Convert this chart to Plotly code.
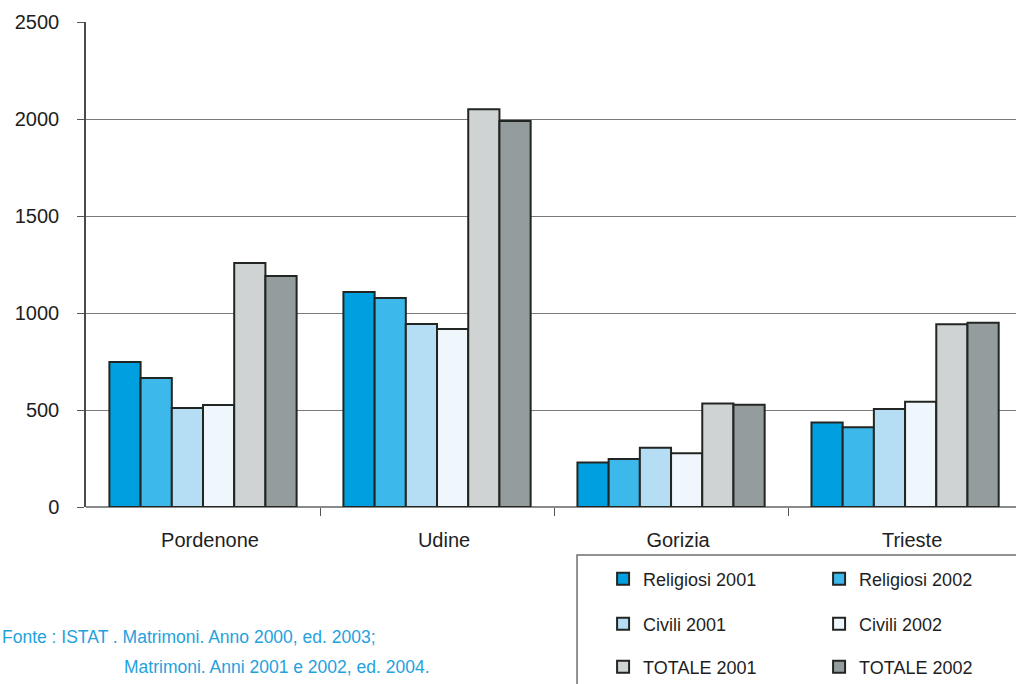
import plotly.graph_objects as go

categories = ["Pordenone", "Udine", "Gorizia", "Trieste"]
series_names = ["Religiosi 2001", "Religiosi 2002", "Civili 2001", "Civili 2002", "TOTALE 2001", "TOTALE 2002"]
religiosi_2001 = [747, 1108, 230, 435]
religiosi_2002 = [665, 1077, 247, 411]
civili_2001 = [510, 943, 306, 505]
civili_2002 = [526, 918, 277, 543]
totale_2001 = [1258, 2050, 534, 942]
totale_2002 = [1191, 1990, 527, 950]
y_ticks = [0, 500, 1000, 1500, 2000, 2500]
source_line1 = "Fonte : ISTAT . Matrimoni. Anno 2000, ed. 2003;"
source_line2 = "Matrimoni. Anni 2001 e 2002, ed. 2004."

values = [religiosi_2001, religiosi_2002, civili_2001, civili_2002, totale_2001, totale_2002]
colors = ["#00A0E0", "#3CB9EA", "#B5DDF4", "#F0F7FC", "#D0D3D4", "#959C9E"]
legend_ids = ["legend", "legend", "legend2", "legend2", "legend3", "legend3"]

FONT = "Liberation Sans, Arial, sans-serif"
xpos = list(range(len(categories)))

fig = go.Figure()
for i, (name, vals) in enumerate(zip(series_names, values)):
    kw = {}
    if i % 2 == 0:
        kw["legendwidth"] = 171
    fig.add_trace(go.Bar(
        x=xpos, y=vals, name=name,
        marker=dict(color=colors[i], line=dict(color="#222622", width=2)),
        legend=legend_ids[i], **kw,
    ))

leg_common = dict(orientation="h", x=0.556, xanchor="left", yanchor="middle",
                  font=dict(family=FONT, size=18, color="#1e1e1e"),
                  bgcolor="rgba(0,0,0,0)", borderwidth=0, itemwidth=30,
                  traceorder="normal")

fig.update_layout(
    width=1016, height=684,
    paper_bgcolor="white", plot_bgcolor="white",
    margin=dict(l=86, r=0, t=22, b=177, autoexpand=False),
    barmode="group", bargap=0.2, bargroupgap=0,
    font=dict(family=FONT, size=18, color="#1e1e1e"),
    legend=dict(y=-0.1485, **leg_common),
    legend2=dict(y=-0.2412, **leg_common),
    legend3=dict(y=-0.3299, **leg_common),
    xaxis=dict(
        range=[-0.5, 3.474], tickmode="array",
        tickvals=[p + 0.03 for p in xpos], ticktext=categories,
        ticks="", showgrid=False, zeroline=False,
        showline=False,
        tickfont=dict(family=FONT, size=20, color="#1e1e1e"),
        ticklabelstandoff=19,
        minor=dict(tickmode="array", tickvals=[p + 0.5 for p in xpos[:-1]],
                   ticks="outside", ticklen=8, tickcolor="#555555", tickwidth=1,
                   showgrid=False),
    ),
    yaxis=dict(
        range=[0, 2500], tickmode="array", tickvals=y_ticks,
        ticks="outside", ticklen=7, tickcolor="#555555", tickwidth=1,
        showline=True, linecolor="#4a4a4a", linewidth=1.5,
        showgrid=True, gridcolor="#7a7a7a", gridwidth=1,
        zeroline=True, zerolinecolor="#8a8a8a", zerolinewidth=2,
        tickfont=dict(family=FONT, size=20, color="#1e1e1e"),
        ticklabelstandoff=14,
    ),
)

# legend box (partially outside the visible page, as in the reference)
fig.add_shape(type="rect", xref="paper", yref="paper",
              x0=0.528, x1=1.05, y0=-0.099, y1=-0.6,
              line=dict(color="#6e6e6e", width=1.5), fillcolor="rgba(0,0,0,0)",
              layer="below")

src_font = dict(family=FONT, size=17.5, color="#1FA2DE")
fig.add_annotation(text=source_line1, xref="paper", yref="paper",
                   x=-0.0925, y=-0.268, xanchor="left", yanchor="middle",
                   showarrow=False, font=src_font)
fig.add_annotation(text=source_line2, xref="paper", yref="paper",
                   x=0.0387, y=-0.330, xanchor="left", yanchor="middle",
                   showarrow=False, font=src_font)

fig.write_html("out.html", config={"displayModeBar": False},
               post_script="document.body.style.margin='0';document.body.style.overflow='hidden';")
